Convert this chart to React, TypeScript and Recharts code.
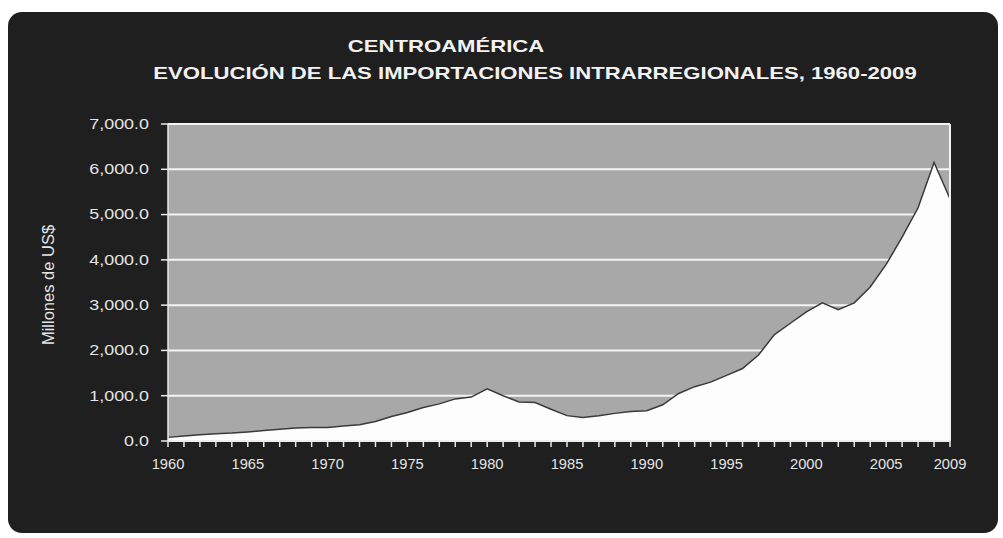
import React from 'react';
import { AreaChart, Area, XAxis, YAxis, CartesianGrid, ReferenceLine } from 'recharts';

const years = [
  1960, 1961, 1962, 1963, 1964, 1965, 1966, 1967, 1968, 1969,
  1970, 1971, 1972, 1973, 1974, 1975, 1976, 1977, 1978, 1979,
  1980, 1981, 1982, 1983, 1984, 1985, 1986, 1987, 1988, 1989,
  1990, 1991, 1992, 1993, 1994, 1995, 1996, 1997, 1998, 1999,
  2000, 2001, 2002, 2003, 2004, 2005, 2006, 2007, 2008, 2009,
];

const importsMUSD = [
  80, 110, 140, 160, 175, 200, 230, 260, 285, 300,
  300, 330, 360, 430, 540, 630, 740, 820, 930, 970,
  1150, 1000, 860, 850, 700, 560, 520, 560, 610, 650,
  670, 800, 1050, 1200, 1300, 1450, 1600, 1900, 2350, 2600,
  2850, 3050, 2900, 3050, 3400, 3900, 4500, 5150, 6150, 5350,
];

const yTicks = [0, 1000, 2000, 3000, 4000, 5000, 6000, 7000];
const xLabelYears = [1960, 1965, 1970, 1975, 1980, 1985, 1990, 1995, 2000, 2005, 2009];

const titleLine1 = 'CENTROAMÉRICA';
const titleLine2 = 'EVOLUCIÓN DE LAS IMPORTACIONES INTRARREGIONALES, 1960-2009';
const yAxisTitle = 'Millones de US$';

const data = years.map((year, i) => ({ year, value: importsMUSD[i] }));

const FONT = '"Liberation Sans", Arial, sans-serif';
const TEXT = '#e4e4e4';

const fmt = (v: number) =>
  v.toLocaleString('en-US', { minimumFractionDigits: 1, maximumFractionDigits: 1 });

const XTick = (props: any) => {
  const { x, y, payload } = props;
  if (!xLabelYears.includes(Number(payload.value))) return <g />;
  return (
    <text
      transform={`translate(${x},${y}) scale(1.05,1)`}
      dy="0.71em"
      textAnchor="middle"
      fill={TEXT}
      fontSize={14}
      fontFamily={FONT}
    >
      {payload.value}
    </text>
  );
};

const YTick = (props: any) => {
  const { x, y, payload } = props;
  return (
    <text
      transform={`translate(${x},${y}) scale(1.28,1)`}
      dy="0.35em"
      textAnchor="end"
      fill={TEXT}
      fontSize={14}
      fontFamily={FONT}
    >
      {fmt(Number(payload.value))}
    </text>
  );
};

export default function App() {
  return (
    <div style={{ position: 'absolute', left: 0, top: 0, width: 1003, height: 538, background: '#ffffff', overflow: 'hidden' }}>
      <div
        style={{
          position: 'absolute', left: 8, top: 12, width: 990, height: 521,
          background: '#1f1f1f', borderRadius: 14,
        }}
      />
      <div
        style={{
          position: 'absolute', left: 0, width: 892, top: 33, textAlign: 'center',
          color: '#f2f2f2', fontFamily: FONT, fontWeight: 'bold', fontSize: 17, lineHeight: '27px',
          whiteSpace: 'nowrap',
        }}
      >
        <div style={{ transform: 'scaleX(1.3)' }}>{titleLine1}</div>
      </div>
      <div
        style={{
          position: 'absolute', left: 0, width: 1070, top: 60, textAlign: 'center',
          color: '#f2f2f2', fontFamily: FONT, fontWeight: 'bold', fontSize: 17, lineHeight: '27px',
          whiteSpace: 'nowrap',
        }}
      >
        <div style={{ transform: 'scaleX(1.3)' }}>{titleLine2}</div>
      </div>
      <div
        style={{
          position: 'absolute', left: 48, top: 285, width: 0, height: 0,
        }}
      >
        <div
          style={{
            position: 'absolute', transform: 'translate(-50%, -50%) rotate(-90deg)', whiteSpace: 'nowrap',
            color: TEXT, fontFamily: FONT, fontSize: 16.5,
          }}
        >
          {yAxisTitle}
        </div>
      </div>
      <div style={{ position: 'absolute', left: 0, top: 0 }}>
        <AreaChart
          width={1003}
          height={538}
          data={data}
          margin={{ top: 124, right: 53, bottom: 67, left: 60 }}
        >
          <CartesianGrid
            vertical={false}
            stroke="#f4f4f4"
            strokeWidth={2}
            fill="#a8a8a8"
            fillOpacity={1}
          />
          <XAxis
            dataKey="year"
            type="category"
            interval={0}
            height={30}
            tick={<XTick />}
            tickSize={6}
            tickMargin={12}
            axisLine={{ stroke: '#e8e8e8', strokeWidth: 1.5 }}
            tickLine={{ stroke: '#e8e8e8', strokeWidth: 1.5 }}
          />
          <YAxis
            type="number"
            domain={[0, 7000]}
            ticks={yTicks}
            width={108}
            tick={<YTick />}
            tickSize={7}
            tickMargin={12}
            axisLine={{ stroke: '#e8e8e8', strokeWidth: 1.5 }}
            tickLine={{ stroke: '#e8e8e8', strokeWidth: 1.5 }}
          />
          <ReferenceLine x={2009} stroke="#f4f4f4" strokeWidth={2} />
          <Area
            type="linear"
            dataKey="value"
            stroke="#3a3a3a"
            strokeWidth={1.5}
            fill="#fdfdfd"
            fillOpacity={1}
            isAnimationActive={false}
          />
        </AreaChart>
      </div>
    </div>
  );
}
